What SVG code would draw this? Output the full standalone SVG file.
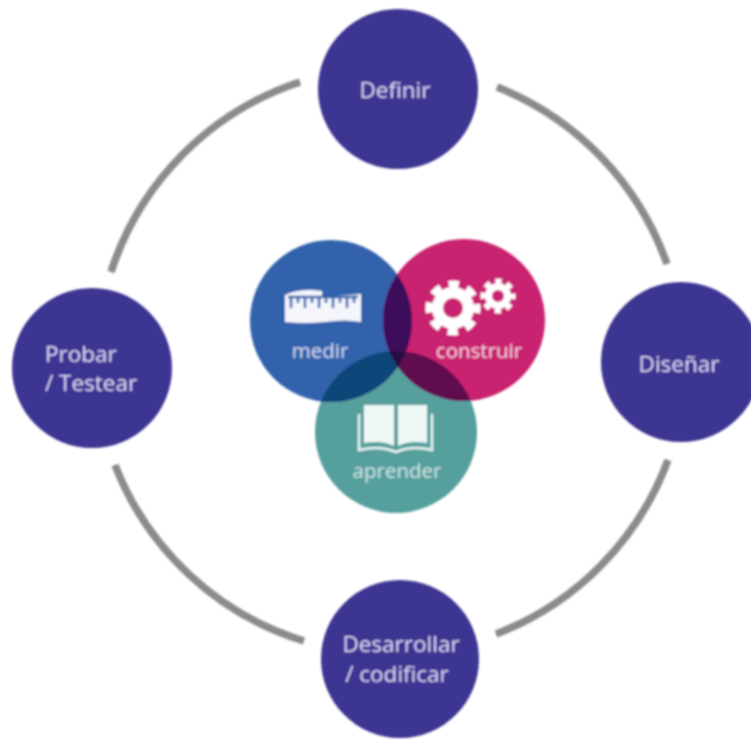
<svg xmlns="http://www.w3.org/2000/svg" width="751" height="740" viewBox="0 0 751 740">
  <defs>
    <filter id="soft" x="-5%" y="-5%" width="110%" height="110%"><feGaussianBlur stdDeviation="0.9"/></filter>
    <clipPath id="cm"><circle cx="331" cy="321" r="81"/></clipPath>
    <clipPath id="cc"><circle cx="464" cy="320" r="81"/></clipPath>
  </defs>
  <style>
    .step { fill: #3e3492; }
    .arc { fill: none; stroke: #8b8b8b; stroke-width: 7.5; }
    text { font-family: "Open Sans", "Noto Sans", "Liberation Sans", sans-serif; }
    .nt { fill: #dcd6f6; font-size: 22.5px; }
    .lt { font-size: 20.5px; text-anchor: middle; }
    .mid { text-anchor: middle; }
  </style>
  <rect width="751" height="740" fill="#ffffff"/>
  <g filter="url(#soft)">
    <g id="connectors">
      <path class="arc" d="M300 82 A296 296 0 0 0 111 272"/>
      <path class="arc" d="M497 87 A296 296 0 0 1 667 264"/>
      <path class="arc" d="M115 465 A296 296 0 0 0 304 641"/>
      <path class="arc" d="M668 460 A296 296 0 0 1 496 634"/>
    </g>
    <g id="node-definir">
      <circle class="step" cx="398" cy="89" r="80"/>
      <text class="nt mid" x="395" y="98">Definir</text>
    </g>
    <g id="node-disenar">
      <circle class="step" cx="681" cy="362" r="80"/>
      <text class="nt mid" x="679" y="372">Diseñar</text>
    </g>
    <g id="node-probar">
      <circle class="step" cx="92" cy="368" r="80"/>
      <text class="nt" x="45" y="362">Probar</text>
      <text class="nt" x="45" y="391">/ Testear</text>
    </g>
    <g id="node-desarrollar">
      <circle class="step" cx="400" cy="659" r="79"/>
      <text class="nt mid" x="401" y="652">Desarrollar</text>
      <text class="nt mid" x="397" y="682">/ codificar</text>
    </g>
    <g id="venn">
      <circle cx="396" cy="432" r="81" fill="#559f9d"/>
      <circle cx="331" cy="321" r="81" fill="#3262ab"/>
      <circle cx="464" cy="320" r="81" fill="#c9226f"/>
      <g clip-path="url(#cm)"><circle cx="396" cy="432" r="81" fill="#0c4679"/></g>
      <g clip-path="url(#cc)"><circle cx="396" cy="432" r="81" fill="#5e1150"/></g>
      <g clip-path="url(#cm)"><circle cx="464" cy="320" r="81" fill="#3c0d5c"/></g>
      <g clip-path="url(#cm)"><g clip-path="url(#cc)"><circle cx="396" cy="432" r="81" fill="#2a0a45"/></g></g>
    </g>
    <g id="node-medir">
      <path fill="#f4f6fb" d="M285 295 Q300 288 322 291 L322 297 L361 294 L361 322 Q345 319 325 322 Q305 324 285 322 Z"/>
      <path fill="none" stroke="#3262ab" stroke-width="2.5" d="M288 297 H358 M291 297 V308 M298 297 V303 M305 297 V308 M312 297 V303 M319 297 V308 M326 297 V303 M333 297 V308 M340 297 V303 M347 297 V308 M354 297 V303"/>
      <text class="lt" x="320" y="358" fill="#d5dcf2">medir</text>
    </g>
    <g id="node-construir">
      <circle cx="453" cy="308" r="15.5" fill="none" stroke="#ffffff" stroke-width="11"/>
      <circle cx="453" cy="308" r="23.5" fill="none" stroke="#ffffff" stroke-width="8" stroke-dasharray="10 8.46" stroke-dashoffset="5"/>
      <circle cx="498" cy="296" r="9.5" fill="none" stroke="#ffffff" stroke-width="7"/>
      <circle cx="498" cy="296" r="14.5" fill="none" stroke="#ffffff" stroke-width="6" stroke-dasharray="6 5.39" stroke-dashoffset="3"/>
      <text class="lt" x="479" y="358" fill="#f6d2e2">construir</text>
    </g>
    <g id="node-aprender">
      <path fill="#eef8f6" d="M364 405 H394 V446 Q382 440 364 443 Z M398 405 H427 V443 Q410 440 398 446 Z"/>
      <path fill="none" stroke="#e9f5f3" stroke-width="2.5" d="M359 414 V450 Q380 445 396 452 Q412 445 432 450 V414"/>
      <text class="lt" x="397" y="478" fill="#cfe6e3">aprender</text>
    </g>
  </g>
</svg>
